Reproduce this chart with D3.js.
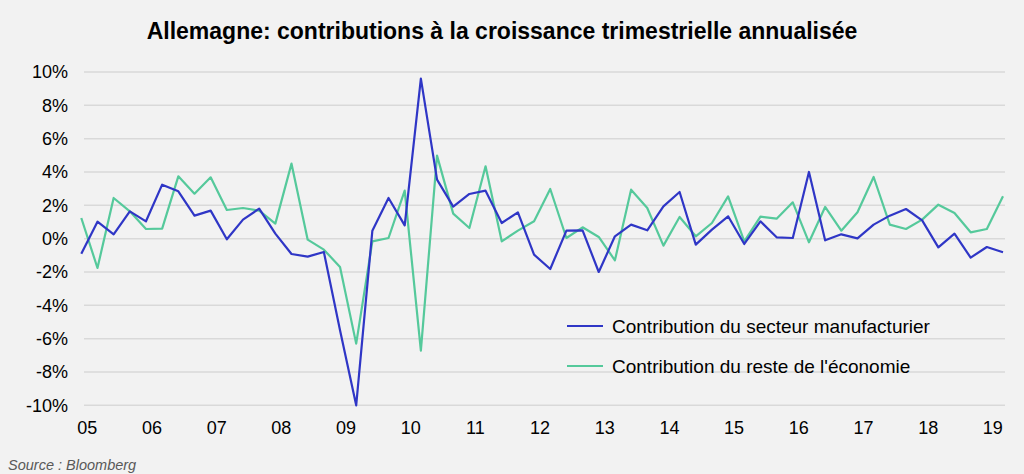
<!DOCTYPE html>
<html>
<head>
<meta charset="utf-8">
<script src="https://cdn.jsdelivr.net/npm/d3@7"></script>
<style>
  html, body { margin: 0; padding: 0; background: #f2f2f2; }
  svg { display: block; }
  text { font-family: "Liberation Sans", Arial, sans-serif; }
</style>
</head>
<body>
<svg id="chart" width="1024" height="474"></svg>
<script>
// ---- Data ----
const years = ["05","06","07","08","09","10","11","12","13","14","15","16","17","18","19"];
const quartersPerYear = ["T1","T2","T3","T4"];
const yTicks = [-10, -8, -6, -4, -2, 0, 2, 4, 6, 8, 10];
const seriesNames = ["Contribution du secteur manufacturier", "Contribution du reste de l'économie"];
const manufacturier = [-0.9, 1.02, 0.26, 1.64, 1.04, 3.24, 2.84, 1.38, 1.68, -0.04, 1.14, 1.8, 0.3,
  -0.92, -1.08, -0.8, -5.5, -10.0, 0.48, 2.44, 0.8, 9.6, 3.54, 1.92, 2.68,
  2.88, 0.94, 1.58, -0.96, -1.82, 0.48, 0.5, -2.0, 0.14, 0.84, 0.5, 1.94, 2.8,
  -0.36, 0.54, 1.34, -0.32, 1.04, 0.08, 0.04, 4.0, -0.1, 0.26, 0.02,
  0.84, 1.38, 1.78, 1.1, -0.52, 0.3, -1.14, -0.5, -0.82];
const resteEconomie = [1.24, -1.76, 2.44, 1.64, 0.58, 0.6, 3.74, 2.7, 3.68, 1.72, 1.84, 1.68, 0.9,
  4.5, -0.06, -0.66, -1.7, -6.3, -0.16, 0.04, 2.88, -6.72, 4.98, 1.5, 0.64,
  4.34, -0.16, 0.48, 1.04, 2.98, 0.04, 0.68, 0.1, -1.3, 2.94, 1.84, -0.42, 1.3,
  0.14, 0.94, 2.54, -0.16, 1.32, 1.2, 2.18, -0.22, 1.9, 0.48, 1.58,
  3.7, 0.84, 0.58, 1.14, 2.04, 1.54, 0.38, 0.58, 2.54];

// quarter categories 05T1 .. 19T2
const periods = [];
years.forEach(y => quartersPerYear.forEach(q => periods.push(y + q)));
const categories = periods.slice(0, manufacturier.length);

const colors = ["#2f36c6", "#55c99b"];

// ---- Layout ----
const svg = d3.select("#chart");
const x = d3.scaleLinear().domain([0, categories.length - 1]).range([81.3, 1003]);
const y = d3.scaleLinear().domain([-10, 10]).range([405.3, 72]);
const gridX0 = 84, gridX1 = 1005;

// title
svg.append("text")
  .attr("x", 502).attr("y", 39)
  .attr("text-anchor", "middle")
  .attr("font-size", 23).attr("font-weight", "bold").attr("fill", "#000")
  .text("Allemagne: contributions à la croissance trimestrielle annualisée");

// gridlines
svg.append("g").selectAll("line").data(yTicks).join("line")
  .attr("x1", gridX0).attr("x2", gridX1)
  .attr("y1", d => y(d)).attr("y2", d => y(d))
  .attr("stroke", "#d9d9d9").attr("stroke-width", 1.5);

// y axis
const yAxis = d3.axisLeft(y).tickValues(yTicks).tickSize(0).tickPadding(0)
  .tickFormat(d => d + "%");
svg.append("g").attr("transform", "translate(68,0)").call(yAxis)
  .call(g => g.select(".domain").remove())
  .call(g => g.selectAll("text").attr("font-size", 18).attr("fill", "#000")
    .attr("font-family", "Liberation Sans, Arial, sans-serif"));

// x axis labels (one per year, at Q1)
const yearIdx = years.map((yr, i) => i * 4);
const xAxis = d3.axisBottom(d3.scaleLinear().domain(x.domain()).range(x.range().map(v => v + 5.5)))
  .tickValues(yearIdx).tickSize(0).tickPadding(0)
  .tickFormat((d, i) => years[i]);
svg.append("g").attr("transform", "translate(0,421)").call(xAxis)
  .call(g => g.select(".domain").remove())
  .call(g => g.selectAll("text").attr("font-size", 18).attr("fill", "#000")
    .attr("font-family", "Liberation Sans, Arial, sans-serif"));

// lines
const line = d3.line().x((d, i) => x(i)).y(d => y(d));
[resteEconomie, manufacturier].forEach((s, k) => {
  svg.append("path").datum(s)
    .attr("d", line)
    .attr("fill", "none")
    .attr("stroke", colors[1 - k])
    .attr("stroke-width", 2.2)
    .attr("stroke-linejoin", "round");
});

// legend
const legendY = [326, 366];
seriesNames.forEach((name, i) => {
  svg.append("line").attr("x1", 567).attr("x2", 603)
    .attr("y1", legendY[i]).attr("y2", legendY[i])
    .attr("stroke", colors[i]).attr("stroke-width", 2.2);
  svg.append("text").attr("x", 612).attr("y", legendY[i] + 7)
    .attr("font-size", 19).attr("fill", "#000").text(name);
});

// source
svg.append("text").attr("x", 8).attr("y", 470)
  .attr("font-size", 14.5).attr("font-style", "italic").attr("fill", "#595959")
  .text("Source : Bloomberg");
</script>
</body>
</html>
